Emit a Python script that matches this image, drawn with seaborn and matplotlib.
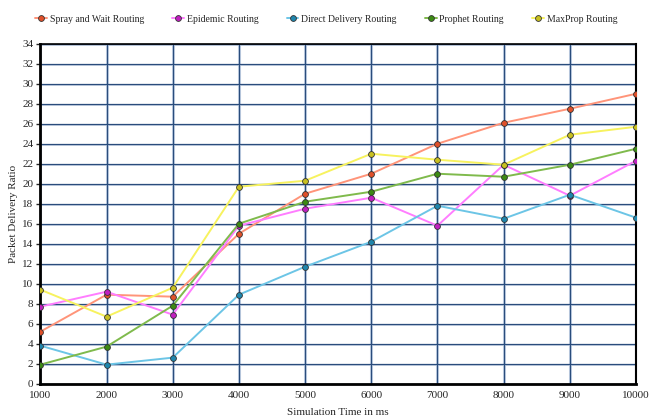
import numpy as np
import pandas as pd
import matplotlib
matplotlib.use("Agg")
import matplotlib.pyplot as plt
import seaborn as sns

sns.set_style("white")
plt.rcParams['font.family'] = ['Liberation Serif', 'DejaVu Serif']

sim_time = [1000, 2000, 3000, 4000, 5000, 6000, 7000, 8000, 9000, 10000]
spray_wait = [5.2, 8.9, 8.7, 15.0, 19.0, 21.0, 24.0, 26.1, 27.5, 29.0]
epidemic = [7.7, 9.2, 6.9, 15.8, 17.5, 18.6, 15.8, 21.9, 18.8, 22.3]
direct_delivery = [3.8, 1.9, 2.6, 8.9, 11.7, 14.2, 17.8, 16.5, 18.9, 16.6]
prophet = [1.9, 3.7, 7.8, 16.0, 18.2, 19.2, 21.0, 20.7, 21.9, 23.5]
maxprop = [9.4, 6.7, 9.6, 19.7, 20.3, 23.0, 22.4, 21.9, 24.9, 25.7]

names = ["Spray and Wait Routing", "Epidemic Routing", "Direct Delivery Routing",
         "Prophet Routing", "MaxProp Routing"]
series = [spray_wait, epidemic, direct_delivery, prophet, maxprop]
line_colors = ["#ff9479", "#ff7dff", "#6cc5e6", "#7fba4c", "#f7f25e"]
marker_colors = ["#e0502a", "#c020c0", "#1f86ad", "#3c8a14", "#c8c020"]

fig, ax = plt.subplots(figsize=(6.51, 4.17), dpi=100)
fig.subplots_adjust(left=0.062, right=0.977, top=0.895, bottom=0.08)

# grid: dark line with a pale band, drawn under the data
for y in range(0, 35, 2):
    ax.axhline(y - 0.1, color="#c3d0e2", lw=1.3, zorder=0)
    ax.axhline(y, color="#2a4c7c", lw=0.9, zorder=0.5)
for x in sim_time:
    ax.axvline(x, color="#c8d6e8", lw=2.2, zorder=0)
    ax.axvline(x, color="#2a4c7c", lw=0.9, zorder=0.5)

for name, vals, lc, mc in zip(names, series, line_colors, marker_colors):
    sns.lineplot(x=sim_time, y=vals, ax=ax, color=lc, lw=1.4, marker="o",
                 markersize=4.2, markerfacecolor=mc, markeredgecolor="#333333",
                 markeredgewidth=0.6, label=name, zorder=3)

ax.set_xlim(1000, 10000)
ax.set_ylim(0, 34)
ax.set_xticks(sim_time)
ax.set_yticks(range(0, 35, 2))
ax.tick_params(axis="both", labelsize=8, length=3, width=1, direction="out",
               left=True, bottom=False, pad=2)
ax.set_ylabel("Packet Delivery Ratio", fontsize=8, labelpad=3)
ax.set_xlabel("Simulation Time in ms", fontsize=8, labelpad=6)

for side in ["left", "bottom"]:
    ax.spines[side].set_color("black")
    ax.spines[side].set_linewidth(2)
ax.spines["right"].set_color("black")
ax.spines["right"].set_linewidth(1.5)
ax.spines["top"].set_color("black")
ax.spines["top"].set_linewidth(1.2)

ax.legend(loc="upper center", bbox_to_anchor=(0.48, 1.097), ncol=5, frameon=False,
          fontsize=7, handlelength=1.2, handletextpad=0.3, columnspacing=2.9,
          borderaxespad=0)

fig.savefig("out.png", dpi=100)
